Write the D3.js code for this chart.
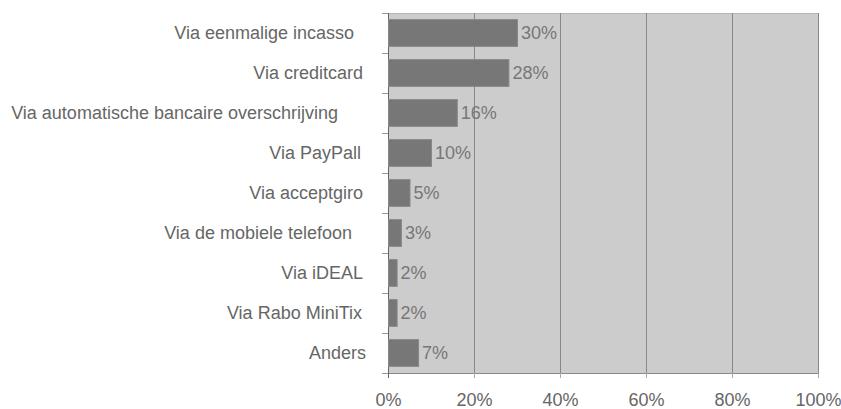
<!DOCTYPE html>
<html>
<head>
<meta charset="utf-8">
<script src="https://cdn.jsdelivr.net/npm/d3@7"></script>
<style>
  body { margin: 0; background: #fff; }
  text { font-family: "Liberation Sans", Arial, sans-serif; }
</style>
</head>
<body>
<div id="chart"></div>
<script>
// data
var categories = ["Via eenmalige incasso", "Via creditcard", "Via automatische bancaire overschrijving",
  "Via PayPall", "Via acceptgiro", "Via de mobiele telefoon", "Via iDEAL", "Via Rabo MiniTix", "Anders"];
var values = [30, 28, 16, 10, 5, 3, 2, 2, 7];
// label end offsets as in the original (trailing blanks)
var labelShift = [9, 0, 25, 2, 0, 11, 0, 1, -3];
var xTicks = [0, 20, 40, 60, 80, 100];

var margin = {top: 13, right: 23, bottom: 36, left: 388};
var W = 841, H = 409;
var width = W - margin.left - margin.right;
var height = H - margin.top - margin.bottom;

var svg = d3.select("#chart").append("svg")
  .attr("width", W).attr("height", H)
  .append("g")
  .attr("transform", "translate(" + margin.left + "," + margin.top + ")");

var x = d3.scaleLinear().domain([0, 100]).range([0, width]);
var y = d3.scaleBand().domain(categories).range([0, height])
  .paddingInner(0.33).paddingOuter(0.165);

// plot background
svg.append("rect")
  .attr("x", 0).attr("y", 0).attr("width", width).attr("height", height)
  .attr("fill", "#cccccc");

// top border
svg.append("line")
  .attr("x1", 0).attr("x2", width).attr("y1", 0.5).attr("y2", 0.5)
  .attr("stroke", "#b8b8b8");

// grid lines
svg.selectAll(".grid").data(xTicks.slice(1)).enter()
  .append("line")
  .attr("class", "grid")
  .attr("x1", function(d) { return Math.round(x(d)) + 0.5; })
  .attr("x2", function(d) { return Math.round(x(d)) + 0.5; })
  .attr("y1", 0).attr("y2", height)
  .attr("stroke", "#888888");

// x axis
var xAxis = d3.axisBottom(x).tickValues(xTicks)
  .tickFormat(function(d) { return d + "%"; })
  .tickSize(5).tickPadding(15);
var gx = svg.append("g")
  .attr("transform", "translate(0," + height + ")")
  .call(xAxis);
gx.select(".domain").attr("stroke", "#888888");
gx.selectAll(".tick line").attr("stroke", "#aaaaaa");
gx.selectAll(".tick text")
  .attr("fill", "#666666")
  .style("font-size", "18px")
  .style("font-family", "'Liberation Sans', Arial, sans-serif");

// y axis ticks between categories
var bounds = d3.range(categories.length + 1).map(function(i) { return i * y.step(); });
svg.selectAll(".ytick").data(bounds).enter()
  .append("line")
  .attr("x1", -6).attr("x2", 0)
  .attr("y1", function(d) { return Math.round(d) + 0.5; })
  .attr("y2", function(d) { return Math.round(d) + 0.5; })
  .attr("stroke", "#999999");
svg.append("line")
  .attr("x1", 0.5).attr("x2", 0.5).attr("y1", 0).attr("y2", height + 5)
  .attr("stroke", "#666666");

// category labels
svg.selectAll(".cat").data(categories).enter()
  .append("text")
  .attr("class", "cat")
  .attr("x", function(d, i) { return -25 - labelShift[i]; })
  .attr("y", function(d) { return y(d) + y.bandwidth() / 2; })
  .attr("dy", "0.35em")
  .attr("text-anchor", "end")
  .attr("fill", "#666666")
  .style("font-size", "18px")
  .text(function(d) { return d; });

// bars
svg.selectAll(".bar").data(values).enter()
  .append("rect")
  .attr("class", "bar")
  .attr("x", 0.5)
  .attr("y", function(d, i) { return y(categories[i]); })
  .attr("width", function(d) { return x(d); })
  .attr("height", y.bandwidth())
  .attr("fill", "#777777")
  .attr("stroke", "#888888");

// value labels
svg.selectAll(".val").data(values).enter()
  .append("text")
  .attr("class", "val")
  .attr("x", function(d) { return x(d) + 4; })
  .attr("y", function(d, i) { return y(categories[i]) + y.bandwidth() / 2; })
  .attr("dy", "0.35em")
  .attr("fill", "#777777")
  .style("font-size", "18px")
  .text(function(d) { return d + "%"; });
</script>
</body>
</html>
